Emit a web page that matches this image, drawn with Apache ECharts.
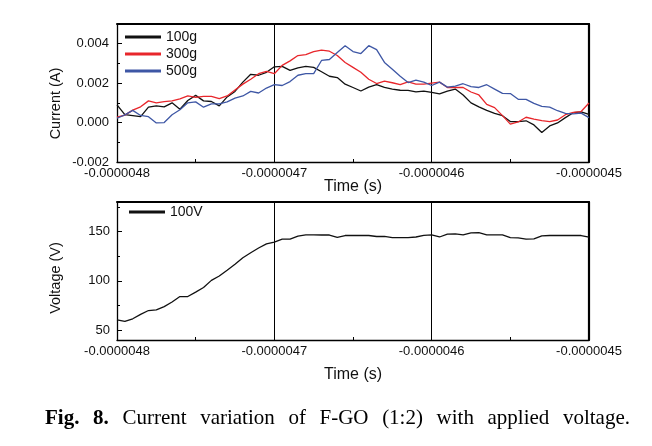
<!DOCTYPE html>
<html><head><meta charset="utf-8">
<script src="https://cdn.jsdelivr.net/npm/echarts@6/dist/echarts.min.js"></script>
<style>html,body{margin:0;padding:0;background:#fff;}#c{width:652px;height:446px;}</style>
</head><body><div id="c"></div>
<script>
// time in nanoseconds
const timeNs = [-4800,-4795,-4790,-4785,-4780,-4775,-4770,-4765,-4760,-4755,
  -4750,-4745,-4740,-4735,-4730,-4725,-4720,-4715,-4710,-4705,
  -4700,-4695,-4690,-4685,-4680,-4675,-4670,-4665,-4660,-4655,
  -4650,-4645,-4640,-4635,-4630,-4625,-4620,-4615,-4610,-4605,
  -4600,-4595,-4590,-4585,-4580,-4575,-4570,-4565,-4560,-4555,
  -4550,-4545,-4540,-4535,-4530,-4525,-4520,-4515,-4510,-4505,-4500];
// current in mA (converted to A for plotting)
const current100g = [0.90,0.40,0.35,0.30,0.78,0.85,0.80,1.00,0.68,1.12,
  1.38,1.10,1.07,0.85,1.30,1.58,2.05,2.45,2.40,2.55,
  2.83,2.85,2.65,2.78,2.85,2.80,2.58,2.35,2.28,1.95,
  1.78,1.60,1.80,1.92,1.78,1.70,1.64,1.63,1.56,1.60,
  1.53,1.46,1.60,1.70,1.40,1.00,0.80,0.62,0.47,0.35,
  0.05,0.05,0.09,-0.12,-0.50,-0.17,-0.02,0.25,0.50,0.54,0.42];
const current300g = [0.27,0.38,0.63,0.80,1.10,1.00,1.06,1.10,1.20,1.35,
  1.28,1.33,1.33,1.22,1.35,1.65,1.95,2.20,2.48,2.60,
  2.48,2.90,3.13,3.40,3.45,3.60,3.68,3.62,3.40,3.05,
  2.80,2.55,2.20,1.98,2.10,2.02,1.92,2.06,1.95,1.95,
  2.00,2.05,1.78,1.78,1.78,1.55,1.40,0.92,0.76,0.35,
  -0.08,0.03,0.27,0.18,0.10,0.05,0.13,0.40,0.52,0.56,0.99];
const current500g = [0.22,0.39,0.62,0.36,0.30,-0.02,0.00,0.40,0.65,1.00,
  1.05,0.78,0.95,0.95,1.05,1.24,1.35,1.58,1.50,1.75,
  1.92,1.88,2.08,2.40,2.48,2.48,3.15,3.20,3.55,3.90,
  3.60,3.50,3.90,3.70,3.05,2.70,2.35,2.03,2.15,2.05,
  1.88,2.05,1.80,1.85,1.97,1.82,1.78,1.92,1.70,1.48,
  1.47,1.18,1.18,0.97,0.82,0.78,0.60,0.47,0.44,0.48,0.25];
const voltage100V = [60.4,58.8,61.5,66.0,69.9,70.5,73.9,78.5,84.1,84.1,
  88.6,93.3,100.5,104.9,110.8,116.8,123.4,128.5,133.3,137.5,
  139.3,142.3,142.3,145.3,146.7,146.7,146.5,146.5,144.2,146.0,
  146.0,146.0,146.0,145.0,145.2,143.9,143.9,143.9,144.5,146.2,
  146.7,144.5,147.5,147.6,146.7,148.6,148.9,146.7,146.7,146.7,
  143.9,143.6,142.3,142.5,145.7,146.0,146.0,146.0,146.0,146.0,144.3];
const xTickValues = [-4800,-4700,-4600,-4500];
const currentTickLabels = ['-0.002','0.000','0.002','0.004'];
const voltageTickLabels = [50,100,150];
const captionWords = [['Fig.',true],['8.',true],['Current',false],['variation',false],['of',false],
  ['F-GO',false],['(1:2)',false],['with',false],['applied',false],['voltage.',false]];

const SANS = '"Liberation Sans", Arial, sans-serif';
const SERIF = '"Liberation Serif", "Times New Roman", serif';
const chart = echarts.init(document.getElementById('c'), null, {renderer:'canvas'});
const toPairs = (arr, scale) => timeNs.map((t,i)=>[t, arr[i]*scale]);
const xLabelFmt = v => (v*1e-9).toFixed(7);

function mainX(gi){
  return {gridIndex:gi,type:'value',position:'bottom',min:-4800,max:-4500,interval:100,
    axisLine:{onZero:false,lineStyle:{color:'#000',width:1.3}},
    axisTick:{inside:true,length:5,lineStyle:{color:'#000',width:1}},
    minorTick:{show:true,splitNumber:2,length:3,lineStyle:{color:'#000',width:1}},
    splitLine:{show:true,lineStyle:{color:'#000',width:1}},
    axisLabel:{margin:5,fontSize:13,color:'#111',fontFamily:SANS,formatter:xLabelFmt}};
}
function borderX(gi){
  return {gridIndex:gi,type:'value',position:'top',min:0,max:1,
    axisLine:{onZero:false,lineStyle:{color:'#000',width:2}},axisTick:{show:false},axisLabel:{show:false},splitLine:{show:false}};
}
function borderY(gi){
  return {gridIndex:gi,type:'value',position:'right',min:0,max:1,
    axisLine:{onZero:false,lineStyle:{color:'#000',width:2.2}},axisTick:{show:false},axisLabel:{show:false},splitLine:{show:false}};
}

// caption layout (justified)
const cv = document.createElement('canvas').getContext('2d');
const capLeft = 45, capRight = 630;
let widths = captionWords.map(([w,b])=>{cv.font=(b?'bold ':'')+'21px '+SERIF;return cv.measureText(w).width;});
const gap = (capRight-capLeft-widths.reduce((a,b)=>a+b,0))/(captionWords.length-1);
let cx = capLeft;
const captionEls = captionWords.map(([w,b],i)=>{
  const el = {type:'text',left:cx,top:408,style:{text:w,fontSize:21,fontFamily:SERIF,fontWeight:b?'bold':'normal',fill:'#000'}};
  cx += widths[i]+gap; return el;
});

chart.setOption({
  animation:false,
  backgroundColor:'#fff',
  grid:[{left:117,top:24,width:472,height:138},{left:117,top:202,width:472,height:138}],
  legend:[
    {data:['100g','300g','500g'],left:125,top:30,orient:'vertical',padding:0,icon:'rect',itemWidth:36,itemHeight:3,itemGap:3,
     textStyle:{fontSize:14,color:'#111',fontFamily:SANS}},
    {data:['100V'],left:129,top:205,padding:0,icon:'rect',itemWidth:36,itemHeight:3,
     textStyle:{fontSize:14,color:'#111',fontFamily:SANS}}
  ],
  xAxis:[mainX(0),borderX(0),mainX(1),borderX(1)],
  yAxis:[
    {gridIndex:0,type:'value',position:'left',min:-0.002,max:0.005,interval:0.002,
     axisLine:{show:true,onZero:false,lineStyle:{color:'#000',width:1.3}},
     axisTick:{show:true,inside:true,length:5,lineStyle:{color:'#000'}},
     splitLine:{show:false},
     axisLabel:{margin:8,fontSize:13,color:'#111',fontFamily:SANS,showMaxLabel:false,
       formatter:v=>{const s=v.toFixed(3);return currentTickLabels.indexOf(s)>=0?s:'';}}},
    {gridIndex:0,type:'value',position:'left',min:-0.002,max:0.005,interval:0.001,
     axisLine:{show:false,onZero:false},axisTick:{show:true,inside:true,length:3,lineStyle:{color:'#000'}},
     axisLabel:{show:false},splitLine:{show:false}},
    borderY(0),
    {gridIndex:1,type:'value',position:'left',min:40,max:180,
     axisLine:{show:true,onZero:false,lineStyle:{color:'#000',width:1.3}},
     axisTick:{show:true,inside:true,length:5,lineStyle:{color:'#000'},customValues:voltageTickLabels},
     splitLine:{show:false},
     axisLabel:{margin:7,fontSize:13,color:'#111',fontFamily:SANS,customValues:voltageTickLabels}},
    {gridIndex:1,type:'value',position:'left',min:40,max:180,
     axisLine:{show:false,onZero:false},axisTick:{show:true,inside:true,length:3,lineStyle:{color:'#000'},customValues:[75,125,175]},
     axisLabel:{show:false},splitLine:{show:false}},
    borderY(1)
  ],
  series:[
    {name:'100g',type:'line',xAxisIndex:0,yAxisIndex:0,data:toPairs(current100g,1e-3),symbol:'none',color:'#111',lineStyle:{width:1.3,color:'#111'}},
    {name:'300g',type:'line',xAxisIndex:0,yAxisIndex:0,data:toPairs(current300g,1e-3),symbol:'none',color:'#e8262b',lineStyle:{width:1.3,color:'#e8262b'}},
    {name:'500g',type:'line',xAxisIndex:0,yAxisIndex:0,data:toPairs(current500g,1e-3),symbol:'none',color:'#3e57a5',lineStyle:{width:1.3,color:'#3e57a5'}},
    {name:'100V',type:'line',xAxisIndex:2,yAxisIndex:3,data:toPairs(voltage100V,1),symbol:'none',color:'#111',lineStyle:{width:1.3,color:'#111'}}
  ],
  graphic:[
    {type:'text',x:55.5,y:103.5,rotation:Math.PI/2,style:{text:'Current (A)',fontSize:14.5,fontFamily:SANS,fill:'#111',align:'center',verticalAlign:'middle'}},
    {type:'text',x:56,y:278,rotation:Math.PI/2,style:{text:'Voltage (V)',fontSize:14.5,fontFamily:SANS,fill:'#111',align:'center',verticalAlign:'middle'}},
    {type:'text',x:353,y:187,style:{text:'Time (s)',fontSize:16,fontFamily:SANS,fill:'#111',align:'center',verticalAlign:'middle'}},
    {type:'text',x:353,y:375,style:{text:'Time (s)',fontSize:16,fontFamily:SANS,fill:'#111',align:'center',verticalAlign:'middle'}}
  ].concat(captionEls)
});
</script></body></html>
